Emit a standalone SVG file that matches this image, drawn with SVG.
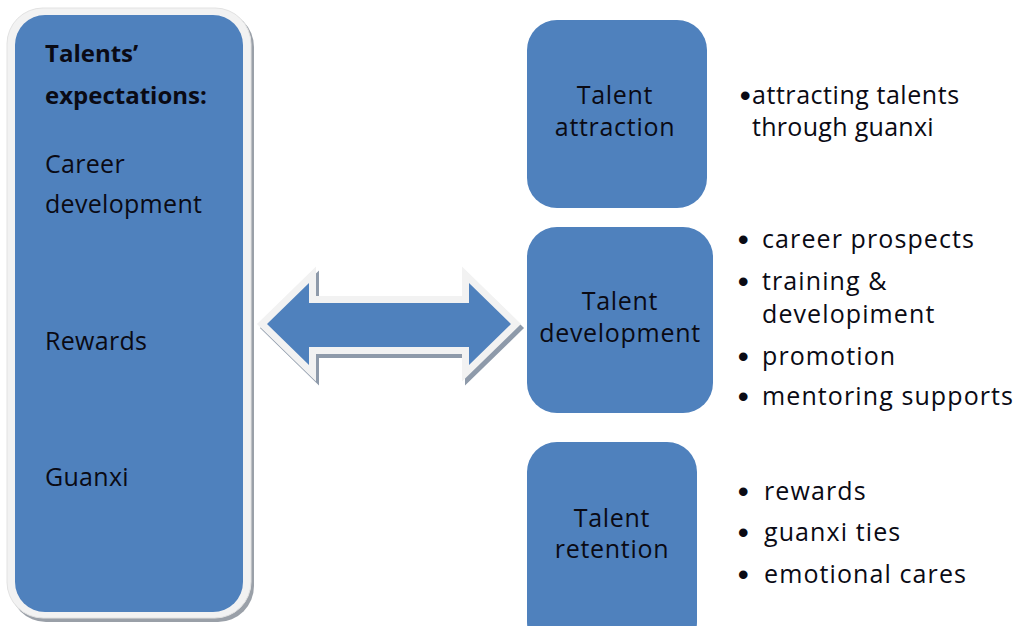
<svg xmlns="http://www.w3.org/2000/svg" width="1022" height="626" viewBox="0 0 1022 626">
<style>
.blue{fill:#4f81bd}
.t{font-family:"Open Sans","Liberation Sans",sans-serif;font-size:25px;fill:#0a0a14}
.b{font-weight:bold;font-size:24px}
.c{text-anchor:middle}
.bu{font-family:"Liberation Sans",sans-serif;font-size:30px;font-weight:bold;fill:#0a0a14}
</style>
<rect width="1022" height="626" fill="#ffffff"/>
<g id="expectations">
<rect x="10" y="11" width="244" height="611" rx="36" fill="#9aa0a8"/>
<rect x="7" y="8" width="244" height="610" rx="36" fill="#f2f2f2" stroke="#e2e2e2" stroke-width="1"/>
<rect class="blue" x="15" y="15" width="228" height="597" rx="30"/>
<text class="t b" x="45" y="62">Talents’</text>
<text class="t b" x="45" y="104">expectations:</text>
<text class="t" x="45" y="173" letter-spacing="0.3">Career</text>
<text class="t" x="45" y="213" letter-spacing="0.3">development</text>
<text class="t" x="45" y="350" letter-spacing="0.3">Rewards</text>
<text class="t" x="45" y="486" letter-spacing="0.3">Guanxi</text>
</g>
<g id="connectors">
<path d="M270,328 L312,287 L312,307 L472,307 L472,287 L514,328 L472,369 L472,351 L312,351 L312,369 Z" fill="#8e9aaa" stroke="#8e9aaa" stroke-width="14" stroke-linejoin="miter"/>
<path d="M267,324 L309,283 L309,303 L469,303 L469,283 L511,324 L469,365 L469,347 L309,347 L309,365 Z" fill="#f2f2f2" stroke="#f2f2f2" stroke-width="14" stroke-linejoin="miter"/>
<path class="blue" d="M267,324 L309,283 L309,303 L469,303 L469,283 L511,324 L469,365 L469,347 L309,347 L309,365 Z"/>
</g>
<g id="attraction">
<rect class="blue" x="527" y="20" width="180" height="188" rx="30"/>
<text class="t c" x="615" y="104" letter-spacing="0.7">Talent</text>
<text class="t c" x="615" y="136" letter-spacing="0.7">attraction</text>
<text class="bu" x="740" y="106">•</text>
<text class="t" x="752" y="104" letter-spacing="0.55">attracting talents</text>
<text class="t" x="752" y="136" letter-spacing="0.3">through guanxi</text>
</g>
<g id="development">
<rect class="blue" x="527" y="227" width="186" height="186" rx="30"/>
<text class="t c" x="620" y="310" letter-spacing="0.7">Talent</text>
<text class="t c" x="620" y="342" letter-spacing="0.7">development</text>
<text class="bu" x="738" y="250">•</text>
<text class="t" x="762" y="248" letter-spacing="1.1">career prospects</text>
<text class="bu" x="738" y="292">•</text>
<text class="t" x="762" y="290" letter-spacing="1.1">training &amp;</text>
<text class="t" x="762" y="323" letter-spacing="1.1">developiment</text>
<text class="bu" x="738" y="367">•</text>
<text class="t" x="762" y="365" letter-spacing="1.1">promotion</text>
<text class="bu" x="738" y="407">•</text>
<text class="t" x="762" y="405" letter-spacing="1.1">mentoring supports</text>
</g>
<g id="retention">
<rect class="blue" x="527" y="442" width="170" height="210" rx="30"/>
<text class="t c" x="612" y="527" letter-spacing="0.7">Talent</text>
<text class="t c" x="612" y="558" letter-spacing="0.7">retention</text>
<text class="bu" x="738" y="502">•</text>
<text class="t" x="764" y="500" letter-spacing="1.1">rewards</text>
<text class="bu" x="738" y="543">•</text>
<text class="t" x="764" y="541" letter-spacing="1.1">guanxi ties</text>
<text class="bu" x="738" y="585">•</text>
<text class="t" x="764" y="583" letter-spacing="1.1">emotional cares</text>
</g>
</svg>
